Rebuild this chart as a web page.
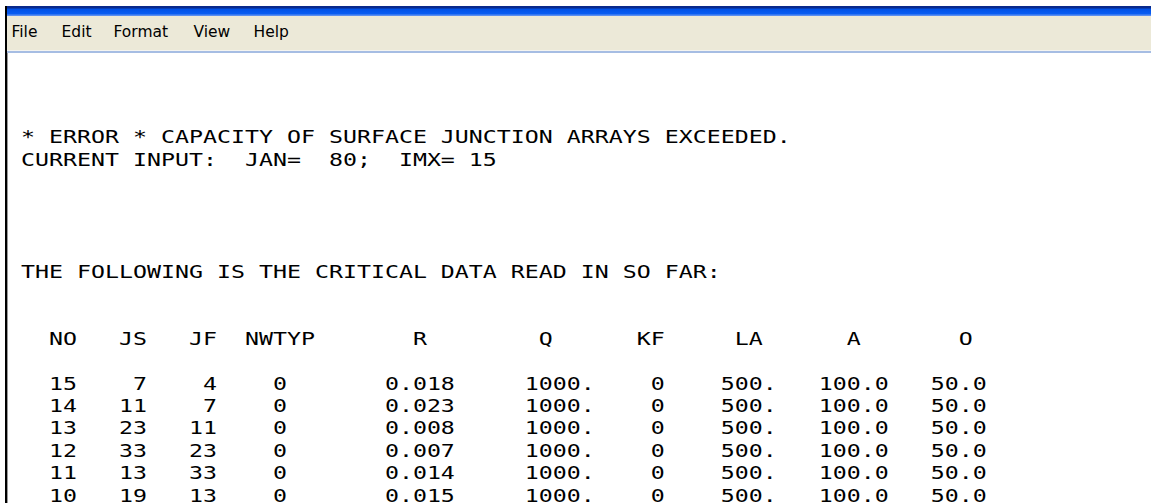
<!DOCTYPE html>
<html>
<head>
<meta charset="utf-8">
<script src="https://cdn.jsdelivr.net/npm/chart.js@4.4.0/dist/chart.umd.min.js"></script>
<style>
html, body { margin: 0; padding: 0; background: #fff; width: 1151px; height: 503px; overflow: hidden; }
#titlebar { position: absolute; left: 5px; top: 6px; width: 1146px; height: 10px;
  background: linear-gradient(#0a2a8c 0, #0a2a8c 2px, #0050e6 3px, #0a5ef2 8px, #5a8ef0 9px, #5a8ef0 10px); }
#menubar { position: absolute; left: 7px; top: 16px; width: 1144px; height: 34px; background: #ece9d8; }
#sep1 { position: absolute; left: 7px; top: 50px; width: 1144px; height: 1px; background: #f4f4f0; }
#sep2 { position: absolute; left: 7px; top: 51px; width: 1144px; height: 2px; background: #a6bde3; }
#leftedge { position: absolute; left: 5px; top: 6px; width: 2px; height: 497px; background: #000; }
#leftedge2 { position: absolute; left: 7px; top: 53px; width: 1px; height: 450px; background: #9a9a9a; }
.menu { position: absolute; top: 22px; font-family: "DejaVu Sans", sans-serif; font-size: 15.5px; line-height: 20px; color: #000; white-space: pre; }
.ln { position: absolute; left: 7px; margin: 0; font-family: "DejaVu Sans Mono", monospace;
  font-size: 18px; line-height: 22.4px; height: 22.4px; color: #000; white-space: pre;
  transform: scaleX(1.2915); transform-origin: 0 0; }
</style>
</head>
<body>
<div id="titlebar"></div>
<div id="menubar"></div>
<div id="sep1"></div>
<div id="sep2"></div>
<div id="leftedge"></div>
<div id="leftedge2"></div>
<div id="menus"></div>
<div id="text"></div>
<script>
// menu words
var menuItems = ["File", "Edit", "Format", "View", "Help"];
var menuX = [11.5, 61.5, 113.5, 193.5, 253.5];

// message lines
var errorLine = "* ERROR * CAPACITY OF SURFACE JUNCTION ARRAYS EXCEEDED.";
var inputLine = "CURRENT INPUT:  JAN=  80;  IMX= 15";
var titleLine = "THE FOLLOWING IS THE CRITICAL DATA READ IN SO FAR:";

// table
var colNames = ["NO", "JS", "JF", "NWTYP", "R", "Q", "KF", "LA", "A", "O"];
var noVals = [15, 14, 13, 12, 11, 10];
var jsVals = [7, 11, 23, 33, 13, 19];
var jfVals = [4, 7, 11, 23, 33, 13];
var nwtypVals = [0, 0, 0, 0, 0, 0];
var rVals = ["0.018", "0.023", "0.008", "0.007", "0.014", "0.015"];
var qVals = ["1000.", "1000.", "1000.", "1000.", "1000.", "1000."];
var kfVals = [0, 0, 0, 0, 0, 0];
var laVals = ["500.", "500.", "500.", "500.", "500.", "500."];
var aVals = ["100.0", "100.0", "100.0", "100.0", "100.0", "100.0"];
var oVals = ["50.0", "50.0", "50.0", "50.0", "50.0", "50.0"];

// character columns of the fixed format
var headCol = [3, 8, 13, 17, 29, 38, 45, 52, 60, 68];
var dataEnd = [4, 9, 14, 19, 31, 41, 46, 54, 62, 69];

var menus = document.getElementById("menus");
for (var i = 0; i < menuItems.length; i++) {
    var s = document.createElement("span");
    s.className = "menu";
    s.style.left = menuX[i] + "px";
    s.textContent = menuItems[i];
    menus.appendChild(s);
}

function blankLine(n) {
    var a = [];
    for (var i = 0; i < n; i++) a.push(" ");
    return a;
}
function putAt(line, col, str) {
    for (var i = 0; i < str.length; i++) line[col + i] = str.charAt(i);
}
function trimEnd(a) {
    return a.join("").replace(/\s+$/, "");
}

var lines = [];
lines.push("", "", "");
lines.push(" " + errorLine);
lines.push(" " + inputLine);
lines.push("", "", "", "");
lines.push(" " + titleLine);
lines.push("", "");

var head = blankLine(75);
for (var c = 0; c < colNames.length; c++) putAt(head, headCol[c], colNames[c]);
lines.push(trimEnd(head));
lines.push("");

for (var r = 0; r < noVals.length; r++) {
    var cells = [noVals[r], jsVals[r], jfVals[r], nwtypVals[r], rVals[r], qVals[r],
                 kfVals[r], laVals[r], aVals[r], oVals[r]];
    var row = blankLine(75);
    for (var c = 0; c < cells.length; c++) {
        var t = String(cells[c]);
        putAt(row, dataEnd[c] - t.length + 1, t);
    }
    lines.push(trimEnd(row));
}

// one element per line, notepad line pitch 22.4px
var box = document.getElementById("text");
for (var n = 0; n < lines.length; n++) {
    if (lines[n] == "") continue;
    var d = document.createElement("div");
    d.className = "ln";
    d.style.top = (59 + n * 22.4) + "px";
    d.textContent = lines[n];
    box.appendChild(d);
}
</script>
</body>
</html>
